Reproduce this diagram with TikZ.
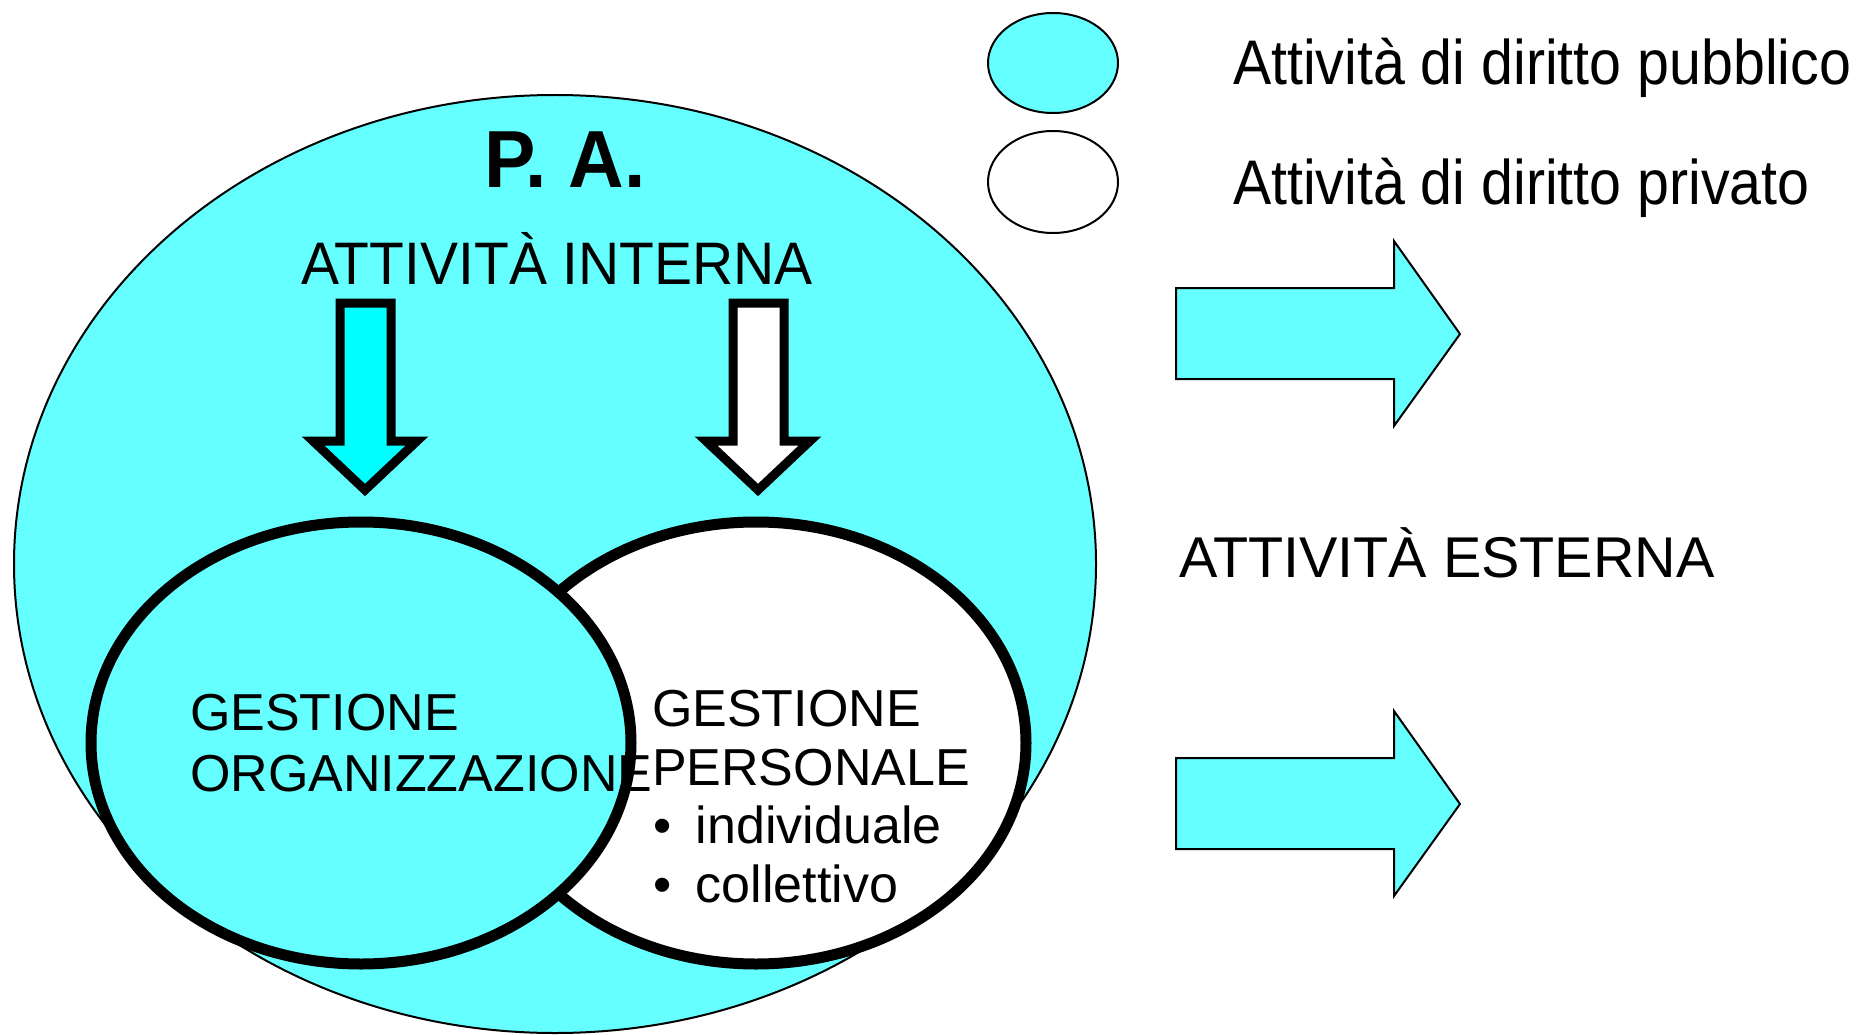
\documentclass[tikz,border=0pt]{standalone}
\usepackage{fontspec}
\setmainfont{Liberation Sans}
\newfontfamily\legf[FakeStretch=0.91]{Liberation Sans}
\newfontfamily\intf[FakeStretch=0.95]{Liberation Sans}
\newfontfamily\paf[FakeStretch=0.95]{Liberation Sans}
\definecolor{pacyan}{HTML}{66FFFF}
\definecolor{pcyan}{HTML}{00FFFF}
\tikzset{
  bigfill/.style={fill=pacyan, draw=black, line width=2pt},
  venn/.style={draw=black, line width=11pt},
  downarrow/.style={draw=black, line width=9pt, line join=miter, miter limit=10},
  rightarrow/.style={fill=pacyan, draw=black, line width=2pt, line join=miter},
  legell/.style={draw=black, line width=2pt},
  lbl/.style={inner sep=0pt, outer sep=0pt},
  gtxt/.style={inner sep=0pt, outer sep=0pt, anchor=base west, font=\fontsize{52}{62}\selectfont}
}
\begin{document}
\begin{tikzpicture}[x=1pt,y=-1pt]
\useasboundingbox (0,0) rectangle (1856,1035);
\fill[white] (0,0) rectangle (1856,1035);
% big P.A. ellipse
\draw[bigfill] (555,564) ellipse [x radius=541, y radius=469];
% Venn ellipses
\draw[venn, fill=white] (756,743) ellipse [x radius=270, y radius=221];
\draw[venn, fill=pacyan] (361,743) ellipse [x radius=270, y radius=221];
% down arrows
\draw[downarrow, fill=pcyan] (340,303) -- (391,303) -- (391,441) -- (417,441) -- (365,490) -- (313,441) -- (340,441) -- cycle;
\draw[downarrow, fill=white] (733,303) -- (784,303) -- (784,441) -- (810,441) -- (758,490) -- (706,441) -- (733,441) -- cycle;
% right block arrows
\draw[rightarrow] (1176,288) -- (1394,288) -- (1394,241) -- (1460,334) -- (1394,426) -- (1394,379) -- (1176,379) -- cycle;
\draw[rightarrow] (1176,758) -- (1394,758) -- (1394,711) -- (1460,804) -- (1394,896) -- (1394,849) -- (1176,849) -- cycle;
% legend
\draw[legell, fill=pacyan] (1053,63) ellipse [x radius=65, y radius=50];
\draw[legell, fill=white] (1053,182) ellipse [x radius=65, y radius=51];
\node[lbl, anchor=base west, font=\legf\fontsize{63}{70}\selectfont] (leg1) at (1233,85) {Attività di diritto pubblico};
\node[lbl, anchor=base west, font=\legf\fontsize{63}{70}\selectfont] (leg2) at (1233,205) {Attività di diritto privato};
% titles
\node[lbl, anchor=base, font=\paf\bfseries\fontsize{81}{90}\selectfont] (pa) at (565,188) {P. A.};
\node[lbl, anchor=base, font=\intf\fontsize{60}{70}\selectfont] (int) at (557,284) {ATTIVITÀ INTERNA};
\node[lbl, anchor=base west, font=\fontsize{57.5}{68}\selectfont] (est) at (1179,577) {ATTIVITÀ ESTERNA};
% Venn texts
\node[gtxt] (g1) at (190,730) {GESTIONE};
\node[gtxt] (g2) at (190,791) {ORGANIZZAZIONE};
\node[gtxt] (p1) at (652,726) {GESTIONE};
\node[gtxt] (p2) at (652,785) {PERSONALE};
\node[gtxt] (p3) at (653,843) {\makebox[43pt][l]{•}individuale};
\node[gtxt] (p4) at (653,902) {\makebox[43pt][l]{•}collettivo};
\end{tikzpicture}
\end{document}
